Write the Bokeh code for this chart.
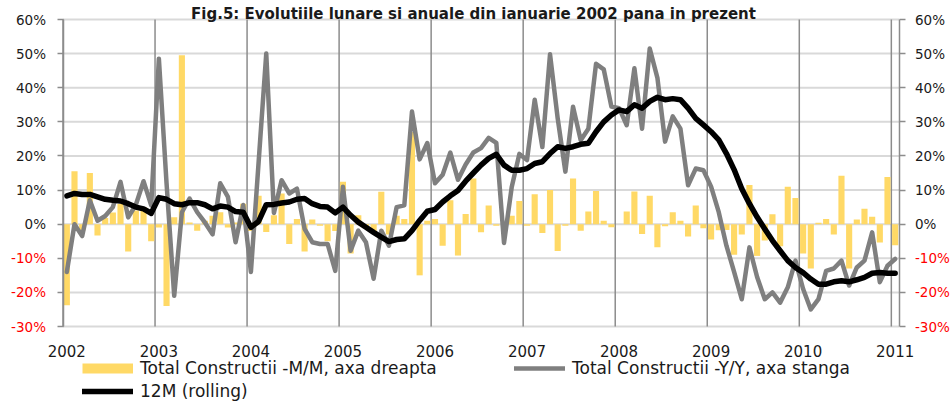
import numpy as np
from bokeh.plotting import figure
from bokeh.models import (Range1d, LinearAxis, FixedTicker, Label,
                          ColumnDataSource, Legend, LegendItem)
from bokeh.embed import file_html
from bokeh.resources import INLINE

title_text = "Fig.5: Evolutiile lunare si anuale din ianuarie 2002 pana in prezent"
years = ["2002", "2003", "2004", "2005", "2006", "2007", "2008", "2009", "2010", "2011"]
y_ticks = [-30, -20, -10, 0, 10, 20, 30, 40, 50, 60]

# Total Constructii - M/M (%), right axis, monthly Jan 2002 .. Jan 2011
mm = [-23.8, 15.5, -2.0, 15.0, -3.3, 1.8, 3.4, 5.9, -8.0, 4.0, 5.0, -5.0,
      -1.0, -24.0, 2.0, 49.5, 0.5, -1.9, 1.0, 2.5, 3.5, -1.0, 0.5, 6.0,
      -2.0, 8.3, -2.3, 2.6, 9.0, -5.8, 1.5, -8.0, 1.4, -0.5, -5.0, -2.0,
      12.4, -8.6, 2.6, -1.0, -2.0, 9.5, -3.0, 2.5, 1.5, 27.0, -15.0, 1.0,
      1.5, -6.3, 7.0, -9.2, 3.0, 13.4, -2.4, 5.5, -0.5, 0.5, 2.5, 6.8,
      -0.5, 8.8, -2.6, 10.0, -7.9, -0.5, 13.4, -1.9, 3.7, 9.7, 1.0, -0.9,
      0.0, 3.7, 9.6, -2.9, 8.3, -6.8, -0.6, 3.5, 1.0, -3.6, 5.5, -1.2,
      -4.5, -1.8, -1.7, -9.0, -3.0, 11.5, -9.3, -4.8, 2.9, -6.5, 11.0, 7.7,
      -8.6, -13.0, 0.4, 1.5, -3.0, 14.2, -13.0, 1.4, 4.5, 2.2, -5.4, 13.8,
      -6.2]

# Total Constructii - Y/Y (%), left axis
yy = [-14.0, 0.0, -3.5, 7.0, 1.0, 2.4, 5.0, 12.4, 2.0, 5.7, 12.6, 5.5,
      48.5, 12.0, -21.0, 3.5, 7.5, 3.5, 0.5, -3.0, 12.0, 8.0, -5.3, 5.6,
      -14.0, 18.0, 50.0, 3.3, 12.9, 9.0, 10.4, -1.4, -5.3, -5.8, -5.8, -13.7,
      11.0, -7.8, -1.9, -5.3, -16.0, -1.9, -6.3, 5.0, 5.5, 33.0, 19.0, 23.8,
      12.0, 14.5, 21.0, 13.0, 17.5, 21.0, 22.3, 25.3, 23.8, -5.5, 10.8, 20.6,
      18.8, 36.5, 22.6, 49.8, 31.0, 15.4, 34.4, 24.6, 28.0, 47.0, 45.4, 34.5,
      34.0, 29.0, 45.7, 28.0, 51.5, 42.9, 24.2, 31.6, 28.0, 11.4, 16.3, 15.8,
      11.0, 3.5, -6.3, -14.0, -22.0, -6.8, -15.5, -22.0, -20.0, -23.0, -18.5, -10.7,
      -19.0, -25.0, -22.0, -13.7, -13.0, -10.7, -18.0, -12.7, -10.7, -2.4, -17.0, -12.2,
      -10.2]

# 12M (rolling) (%)
roll = [8.3, 9.0, 8.7, 8.7, 8.0, 7.3, 7.0, 6.8, 6.0, 5.0, 4.5, 3.2,
        7.8, 7.3, 6.0, 5.7, 6.3, 6.3, 5.7, 4.5, 5.3, 5.0, 3.7, 3.5,
        -0.9, 0.8, 5.7, 5.8, 6.2, 6.5, 7.3, 7.5, 6.0, 5.2, 5.0, 3.3,
        5.0, 2.6, 0.6, -0.9, -2.4, -3.8, -5.1, -4.5, -4.3, -1.9, 1.1, 3.8,
        4.3, 6.5, 8.3, 9.9, 12.6, 15.0, 17.3, 19.3, 20.5, 17.3, 15.8, 15.8,
        16.3, 17.8, 18.3, 20.7, 22.7, 22.2, 22.7, 23.4, 23.7, 27.1, 30.0, 32.0,
        33.5, 33.0, 35.0, 34.0, 36.0, 37.2, 36.5, 36.8, 36.5, 34.0, 31.0, 29.1,
        27.1, 24.7, 20.7, 16.0, 10.4, 6.0, 2.1, -1.4, -4.8, -7.8, -10.7, -12.7,
        -14.2, -16.1, -17.6, -17.6, -16.9, -16.6, -16.9, -16.3, -15.6, -14.4, -14.2, -14.4,
        -14.4]

n = len(mm)
xs = np.arange(n) + 0.5
src = ColumnDataSource(dict(x=xs, mm=mm, yy=yy, roll=roll))

# ---- layout (pixels on the canvas) ----
W, H = 952, 401
PL, PR, PT, PB = 62.5, 898.5, 19.0, 326.0      # plot area edges
ymin, ymax = y_ticks[0], y_ticks[-1]
sx = (PR - PL) / n                             # px per month
ky = (PB - PT) / (ymax - ymin)                 # px per percent
x_rng = Range1d(-PL / sx, (W - PL) / sx)
y_rng = Range1d(ymin - (H - PB) / ky, ymax + PT / ky)

FONT = "DejaVu Sans"
TXT = "#1a1a1a"
GRID_H = "#d9d9d9"
GRID_V = "#8c8c8c"
YELLOW = "#FFD966"

p = figure(width=W, height=H, x_range=x_rng, y_range=y_rng,
           x_axis_location=None, y_axis_location=None, min_border=0,
           output_backend="svg", toolbar_location=None)
p.extra_y_ranges = {"right": Range1d(y_rng.start, y_rng.end)}
p.outline_line_color = None
p.background_fill_color = "white"
p.border_fill_color = "white"
p.xgrid.visible = False
p.ygrid.visible = False

# ---- grid lines inside the plot area ----
hg = ColumnDataSource(dict(y=y_ticks, x0=[0] * len(y_ticks), x1=[n] * len(y_ticks)))
p.segment(x0="x0", x1="x1", y0="y", y1="y", source=hg, line_color=GRID_H, line_width=2)
year_bounds = [12 * k for k in range(len(years))]
vg = ColumnDataSource(dict(x=year_bounds, y0=[ymin] * len(year_bounds), y1=[ymax] * len(year_bounds)))
p.segment(x0="x", x1="x", y0="y0", y1="y1", source=vg, line_color=GRID_V, line_width=1.5)

# ---- data ----
p.vbar(x="x", top="mm", width=0.8, source=src, y_range_name="right",
       fill_color=YELLOW, line_color=None)
r_yy = p.line("x", "yy", source=src, line_color="#7f7f7f", line_width=4.5,
              line_join="round", line_cap="round")
r_roll = p.line("x", "roll", source=src, line_color="black", line_width=5.5,
                line_join="round", line_cap="round")
# legend key for the bars (a wide yellow stroke, no visible data)
r_bar_key = p.line(x=[xs[0]], y=[np.nan], line_color=YELLOW, line_width=10)

# ---- axes (fixed at the plot-area edges) ----
pos_over = {t: (f"{t}%" if t >= 0 else "") for t in y_ticks}
neg_ticks = [t for t in y_ticks if t < 0]
neg_over = {t: f"{t}%" for t in neg_ticks}

def y_axis(side, loc, ticks, overrides, color, line, standoff, rng="default"):
    ax = LinearAxis(fixed_location=loc, y_range_name=rng, ticker=FixedTicker(ticks=ticks),
                    major_label_overrides=overrides, bounds=(ymin, ymax))
    ax.axis_line_color = GRID_V if line else None
    ax.axis_line_width = 1.5
    ax.major_tick_line_color = GRID_V if line else None
    ax.major_tick_line_width = 1.5
    ax.major_tick_out = 6
    ax.major_tick_in = 0
    ax.minor_tick_line_color = None
    ax.major_label_standoff = standoff
    ax.major_label_text_font = FONT
    ax.major_label_text_font_size = "13.5px"
    ax.major_label_text_color = color
    p.add_layout(ax, side)

y_axis("left", 0, y_ticks, pos_over, TXT, True, 11)
y_axis("left", 0, neg_ticks, neg_over, "#ff0000", False, 11)
y_axis("right", n, y_ticks, pos_over, TXT, True, 10, "right")
y_axis("right", n, neg_ticks, neg_over, "#ff0000", False, 10, "right")

jan_ticks = [12 * k + 0.5 for k in range(len(years))]
xa = LinearAxis(fixed_location=ymin, ticker=FixedTicker(ticks=jan_ticks),
                major_label_overrides={t: lab for t, lab in zip(jan_ticks, years)})
xa.axis_line_color = None
xa.major_tick_line_color = None
xa.minor_tick_line_color = None
xa.major_label_standoff = 12
xa.major_label_text_font = FONT
xa.major_label_text_font_size = "15px"
xa.major_label_text_color = TXT
p.add_layout(xa, "below")

# ---- title ----
p.add_layout(Label(x=(473 - PL) / sx, y=ymax, y_offset=PT - 13, text=title_text,
                   text_align="center", text_baseline="alphabetic",
                   text_font=FONT, text_font_style="bold", text_font_size="15px",
                   text_color=TXT))

# ---- legend ----
def mk_legend(label, rend, loc):
    lg = Legend(items=[LegendItem(label=label, renderers=[rend])], location=loc,
                orientation="horizontal", padding=0, margin=0, spacing=0,
                glyph_width=51, glyph_height=20, label_height=20, label_standoff=7,
                label_text_font=FONT, label_text_font_size="17px",
                label_text_color=TXT,
                border_line_color=None, background_fill_alpha=0)
    p.add_layout(lg, "center")

mk_legend("Total Constructii -M/M, axa dreapta", r_bar_key, (82, H - 378))
mk_legend("Total Constructii -Y/Y, axa stanga", r_yy, (514, H - 378))
mk_legend("12M (rolling)", r_roll, (82, H - 401))

open("out.html", "w").write(file_html(p, INLINE))
